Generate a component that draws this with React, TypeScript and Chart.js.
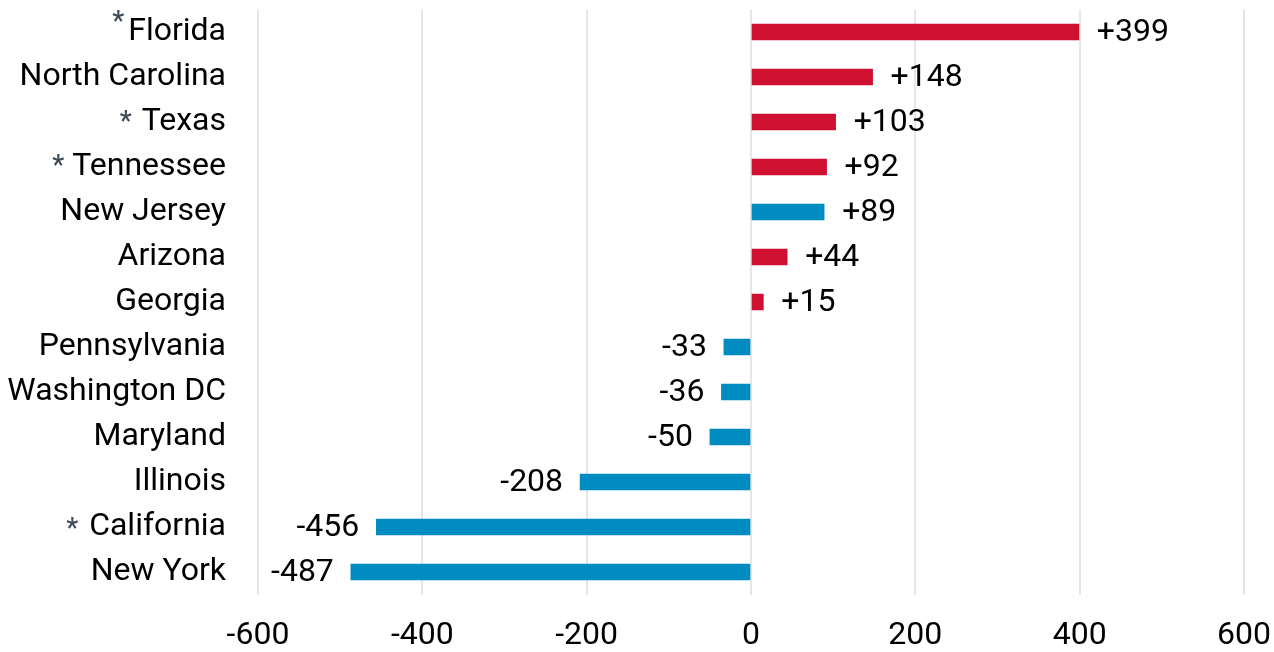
import React, { useEffect, useRef } from "react";
import { Chart, registerables } from "chart.js";

Chart.register(...registerables);

const states = [
  "Florida",
  "North Carolina",
  "Texas",
  "Tennessee",
  "New Jersey",
  "Arizona",
  "Georgia",
  "Pennsylvania",
  "Washington DC",
  "Maryland",
  "Illinois",
  "California",
  "New York",
];
const changes = [399, 148, 103, 92, 89, 44, 15, -33, -36, -50, -208, -456, -487];
const parties = ["R", "R", "R", "R", "D", "R", "R", "D", "D", "D", "D", "D", "D"];
const starred = ["Florida", "Texas", "Tennessee", "California"];
const xTickValues = [-600, -400, -200, 0, 200, 400, 600];

// styling (not data)
const RED = "#CE1130";
const BLUE = "#008CC1";
const FONT = "Roboto";
const FSIZE = 32;
const starStyle: Record<string, { top: number; gap: number }> = {
  Florida: { top: -22, gap: 4 },
  Texas: { top: -12, gap: 10 },
  Tennessee: { top: -13, gap: 8 },
  California: { top: -10, gap: 11 },
};

const valueLabels = {
  id: "valueLabels",
  afterDatasetsDraw(chart: any) {
    const ctx = chart.ctx;
    const meta = chart.getDatasetMeta(0);
    ctx.save();
    ctx.font = `${FSIZE}px ${FONT}`;
    ctx.fillStyle = "#000";
    ctx.textBaseline = "middle";
    meta.data.forEach((bar: any, i: number) => {
      const v = changes[i];
      const txt = v > 0 ? `+${v}` : `${v}`;
      if (v >= 0) {
        ctx.textAlign = "left";
        ctx.fillText(txt, bar.x + 18, bar.y + 1);
      } else {
        ctx.textAlign = "right";
        ctx.fillText(txt, bar.x - 17, bar.y + 1);
      }
    });
    ctx.restore();
  },
};

const starMarks = {
  id: "starMarks",
  afterDraw(chart: any) {
    const ctx = chart.ctx;
    const yScale = chart.scales.y;
    const right = yScale.right - 32;
    ctx.save();
    states.forEach((s, i) => {
      if (!starred.includes(s)) return;
      const st = starStyle[s];
      const y = yScale.getPixelForValue(i);
      ctx.font = `${FSIZE}px ${FONT}`;
      const w = ctx.measureText(s).width;
      ctx.font = `500 27px ${FONT}`;
      const m = ctx.measureText("*");
      ctx.fillStyle = "#3E4A56";
      ctx.textAlign = "right";
      ctx.textBaseline = "alphabetic";
      ctx.fillText("*", right - w - st.gap, y + st.top + m.actualBoundingBoxAscent);
    });
    ctx.restore();
  },
};

export default function App() {
  const ref = useRef<HTMLCanvasElement | null>(null);
  useEffect(() => {
    if (!ref.current) return;
    const chart = new Chart(ref.current, {
      type: "bar",
      data: {
        labels: states,
        datasets: [
          {
            data: changes,
            backgroundColor: parties.map((p) => (p === "R" ? RED : BLUE)),
            barThickness: 16,
            borderWidth: 0,
          },
        ],
      },
      options: {
        indexAxis: "y",
        animation: false,
        responsive: true,
        maintainAspectRatio: false,
        layout: { padding: { top: 9.5, right: 30, left: 0, bottom: 0 } },
        plugins: { legend: { display: false }, tooltip: { enabled: false } },
        scales: {
          x: {
            min: -600,
            max: 600,
            afterBuildTicks: (scale: any) => {
              scale.ticks = xTickValues.map((v) => ({ value: v }));
            },
            afterFit: (scale: any) => {
              scale.height = 57.5;
              scale.paddingLeft = 0;
              scale.paddingRight = 0;
            },
            grid: { color: "#E6E6E6", lineWidth: 2, drawTicks: false },
            border: { display: false },
            ticks: {
              font: { family: FONT, size: FSIZE },
              color: "#000",
              padding: 22,
              maxRotation: 0,
              callback: (v: any) => `${v}`,
            },
          },
          y: {
            afterFit: (scale: any) => {
              scale.width = 258;
              scale.paddingTop = 0;
              scale.paddingBottom = 0;
            },
            grid: { display: false, drawTicks: false },
            border: { display: false },
            ticks: {
              font: { family: FONT, size: FSIZE },
              color: "#000",
              padding: 32,
            },
          },
        },
      },
      plugins: [valueLabels, starMarks],
    });
    return () => chart.destroy();
  }, []);
  return (
    <div style={{ position: "fixed", left: 0, top: 0, width: 1274, height: 652 }}>
      <canvas ref={ref} />
    </div>
  );
}
